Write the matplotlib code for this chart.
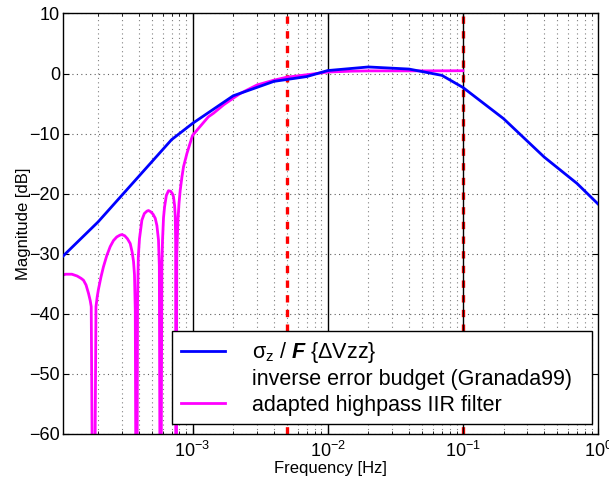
import matplotlib
matplotlib.use('Agg')
from matplotlib import pyplot as plt
from matplotlib.lines import Line2D
import matplotlib.ticker as ticker

plt.rcParams['font.family'] = ['Liberation Sans', 'DejaVu Sans']
plt.rcParams['mathtext.fontset'] = 'custom'
plt.rcParams['mathtext.rm'] = 'Liberation Sans'
plt.rcParams['mathtext.it'] = 'Liberation Sans'
plt.rcParams['mathtext.bf'] = 'Liberation Sans:bold:italic'

# inverse error budget (Granada99)
budget_freq = [1e-4, 2e-4, 7e-4, 1e-3, 2e-3, 4e-3, 7e-3, 1e-2, 2e-2, 4e-2,
               7e-2, 1e-1, 2e-1, 4e-1, 7e-1, 1.0]
budget_db = [-31.3, -24.7, -11.0, -8.3, -3.7, -1.3, -0.5, 0.5, 1.1, 0.75,
             -0.3, -2.3, -7.5, -13.9, -18.3, -21.7]

# adapted highpass IIR filter response (notches go far below the axis)
iir_freq = [1.05e-4, 1.15e-4, 1.28e-4, 1.40e-4, 1.50e-4, 1.56e-4, 1.63e-4,
            1.70e-4, 1.75e-4, 1.78e-4, 1.855e-4,
            1.93e-4, 1.97e-4, 2.01e-4, 2.10e-4, 2.19e-4, 2.32e-4, 2.46e-4,
            2.60e-4, 2.75e-4, 2.90e-4, 3.00e-4, 3.15e-4, 3.30e-4, 3.46e-4,
            3.58e-4, 3.66e-4, 3.72e-4, 3.77e-4, 3.85e-4,
            3.92e-4, 3.97e-4, 4.05e-4, 4.22e-4, 4.40e-4, 4.60e-4, 4.72e-4,
            4.90e-4, 5.10e-4, 5.30e-4, 5.45e-4, 5.60e-4, 5.68e-4, 5.80e-4,
            5.93e-4, 6.00e-4, 6.10e-4, 6.21e-4, 6.40e-4, 6.64e-4, 6.90e-4,
            7.10e-4, 7.23e-4, 7.37e-4, 7.45e-4, 7.50e-4, 7.53e-4,
            7.65e-4, 7.80e-4, 7.95e-4, 8.11e-4, 8.35e-4, 8.58e-4, 9.09e-4,
            9.50e-4, 1.0e-3, 1.1e-3, 1.2e-3, 1.31e-3, 1.43e-3, 1.7e-3,
            2.0e-3, 2.26e-3, 3.0e-3, 4.0e-3, 5.0e-3, 7.0e-3,
            1.0e-2, 1.5e-2, 2.0e-2, 5.0e-2, 1.0e-1]
iir_db = [-33.7, -33.4, -33.4, -33.7, -34.1, -34.4, -35.2,
          -36.6, -37.8, -38.8, -100.0,
          -38.8, -37.2, -36.0, -33.9, -32.2, -30.3, -28.8,
          -27.8, -27.2, -26.9, -26.8, -27.0, -27.5, -28.3,
          -29.8, -31.3, -33.5, -39.4, -100.0,
          -38.0, -30.5, -27.5, -24.4, -23.3, -22.9, -22.8,
          -23.0, -23.4, -24.1, -25.3, -27.7, -32.0, -100.0,
          -32.0, -27.7, -24.0, -22.2, -20.3, -19.5, -19.6,
          -20.0, -20.5, -22.0, -23.8, -28.0, -100.0,
          -30.0, -24.4, -21.5, -19.4, -17.2, -15.5, -13.3,
          -11.9, -10.3, -9.2, -8.2, -7.2, -6.6, -5.2,
          -4.1, -3.3, -1.9, -1.1, -0.6, -0.2,
          0.25, 0.4, 0.45, 0.45, 0.47]

cutoffs = [5e-3, 1e-1]
decades = [1e-3, 1e-2, 1e-1]

fig = plt.figure(figsize=(6.09, 4.82), dpi=100)
ax = fig.add_axes([0.1034, 0.0996, 0.8785, 0.8724])

for d in decades:
	ax.axvline(d, color='k', lw=1.0, zorder=1.8)
for c in cutoffs:
	ax.axvline(c, color='red', lw=2.4, ls=(0, (2.2, 2.2)), zorder=1.5)

ax.plot(iir_freq, iir_db, color='#ff00ff', lw=2.0, zorder=2.5)
ax.plot(budget_freq, budget_db, color='#0000ff', lw=2.0, zorder=3)

ax.set_xscale('log')
ax.set_xlim(1.1e-4, 1.0)
ax.set_ylim(-60, 10)
ax.set_yticks(range(-60, 11, 10))
ax.xaxis.set_minor_locator(ticker.LogLocator(base=10, subs=range(2, 10), numticks=20))
ax.xaxis.set_minor_formatter(ticker.NullFormatter())

ax.set_axisbelow(True)
ax.grid(axis='x', which='minor', ls=(0, (1, 3)), color='#808080', lw=0.8)
ax.grid(axis='y', which='major', ls=(0, (1, 3)), color='#606060', lw=0.8)

ax.tick_params(which='both', direction='in', top=True, right=True, labelsize=13)
ax.tick_params(which='major', length=4, width=0.8, pad=3)
ax.tick_params(axis='x', which='major', pad=5)
ax.tick_params(axis='y', which='major', pad=2)
ax.tick_params(which='minor', length=2.5, width=0.6)
for s in ax.spines.values():
	s.set_linewidth(1.0)

ax.set_xlabel('Frequency [Hz]', fontsize=12, labelpad=0)
ax.set_ylabel('Magnitude [dB]', fontsize=12, labelpad=-1)

handles = [
	Line2D([], [], color='#0000ff', lw=2.0),
	Line2D([], [], color='none'),
	Line2D([], [], color='#ff00ff', lw=2.0),
]
labels = [
	r'$\sigma_z$ / $\mathbf{F}$ {ΔVzz}',
	'inverse error budget (Granada99)  ',
	'adapted highpass IIR filter',
]
leg = ax.legend(handles, labels, loc='lower right', bbox_to_anchor=(0.9894, 0.023),
	borderaxespad=0, fontsize=15.5, fancybox=False, framealpha=1, edgecolor='k',
	handlelength=2.05, handletextpad=1.25, borderpad=0.4, labelspacing=0.2)
leg.get_frame().set_linewidth(1.0)

fig.savefig('out.png', dpi=100)
